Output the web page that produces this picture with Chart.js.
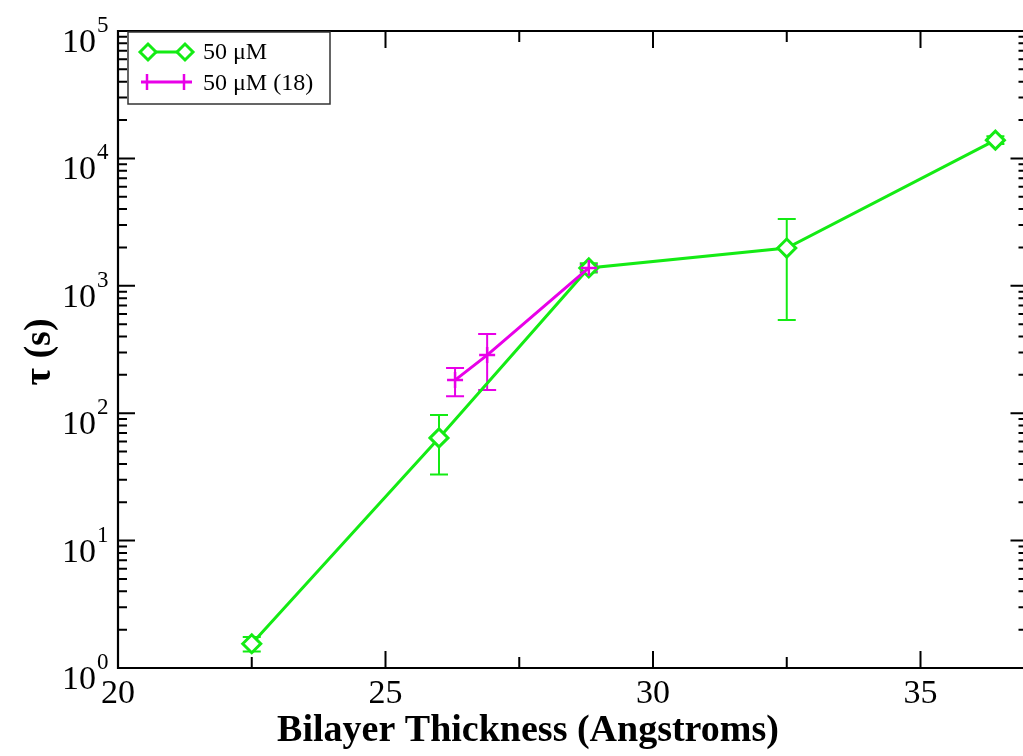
<!DOCTYPE html>
<html>
<head>
<meta charset="utf-8">
<script src="https://cdn.jsdelivr.net/npm/chart.js@4/dist/chart.umd.min.js"></script>
<style>
html,body{margin:0;padding:0;background:#fff;}
canvas{display:block;}
</style>
</head>
<body>
<canvas id="c" width="1023" height="756"></canvas>
<script>
// ---- data ----
const thickness = [22.5, 26.0, 28.8, 32.5, 36.4];
const tau50 = [1.55, 64, 1380, 1980, 13900];
const tau50Lo = [1.35, 33, 1270, 540, 13000];
const tau50Hi = [1.75, 97, 1500, 3350, 14900];
const thickness18 = [26.3, 26.9, 28.8];
const tau18 = [182, 286, 1380];
const tau18Lo = [136, 152, 1300];
const tau18Hi = [226, 418, 1460];
const xMajorTicks = [20, 25, 30, 35];
const xMinorTicks = [22.5, 27.5, 32.5];
const yDecades = [0, 1, 2, 3, 4, 5];
const seriesLabels = ['50 \u03bcM', '50 \u03bcM (18)'];
const xTitle = 'Bilayer Thickness (Angstroms)';
const yTitle = '\u03c4 (s)';

const GREEN = 'rgb(20,235,20)';
const MAGENTA = 'rgb(232,0,232)';
const SERIF = '"Liberation Serif", "Times New Roman", serif';

const errSets = [
  {x: thickness, lo: tau50Lo, hi: tau50Hi, color: GREEN},
  {x: thickness18, lo: tau18Lo, hi: tau18Hi, color: MAGENTA}
];

const decor = {
  id: 'decor',
  beforeDatasetsDraw(chart) {
    const ctx = chart.ctx, xs = chart.scales.x, ys = chart.scales.y;
    ctx.save();
    errSets.forEach(s => {
      ctx.strokeStyle = s.color;
      ctx.lineWidth = 2;
      s.x.forEach((xv, i) => {
        const px = xs.getPixelForValue(xv);
        const pl = ys.getPixelForValue(s.lo[i]);
        const ph = ys.getPixelForValue(s.hi[i]);
        ctx.beginPath();
        ctx.moveTo(px, pl); ctx.lineTo(px, ph);
        ctx.moveTo(px - 9, pl); ctx.lineTo(px + 9, pl);
        ctx.moveTo(px - 9, ph); ctx.lineTo(px + 9, ph);
        ctx.stroke();
      });
    });
    ctx.restore();
  },
  afterDraw(chart) {
    const ctx = chart.ctx, xs = chart.scales.x, ys = chart.scales.y;
    const L = xs.getPixelForValue(20), R = xs.getPixelForValue(37);
    const T = ys.getPixelForValue(1e5), B = ys.getPixelForValue(1);
    ctx.save();
    ctx.strokeStyle = '#000';
    ctx.lineWidth = 2.2;
    ctx.beginPath();
    ctx.moveTo(R, T); ctx.lineTo(L, T); ctx.lineTo(L, B); ctx.lineTo(R, B); ctx.lineTo(R, T);
    ctx.stroke();
    ctx.lineWidth = 2;
    ctx.beginPath();
    xMajorTicks.forEach(v => {
      const p = xs.getPixelForValue(v);
      ctx.moveTo(p, B); ctx.lineTo(p, B - 17);
      ctx.moveTo(p, T); ctx.lineTo(p, T + 17);
    });
    xMinorTicks.forEach(v => {
      const p = xs.getPixelForValue(v);
      ctx.moveTo(p, B); ctx.lineTo(p, B - 11);
      ctx.moveTo(p, T); ctx.lineTo(p, T + 11);
    });
    yDecades.forEach(d => {
      const p = ys.getPixelForValue(Math.pow(10, d));
      ctx.moveTo(L, p); ctx.lineTo(L + 17, p);
      ctx.moveTo(R, p); ctx.lineTo(R - 17, p);
      if (d < 5) {
        for (let m = 2; m <= 9; m++) {
          const q = ys.getPixelForValue(m * Math.pow(10, d));
          ctx.moveTo(L, q); ctx.lineTo(L + 9, q);
          ctx.moveTo(R, q); ctx.lineTo(R - 9, q);
        }
      }
    });
    ctx.stroke();
    ctx.fillStyle = '#000';
    ctx.font = '34px ' + SERIF;
    ctx.textAlign = 'center';
    ctx.textBaseline = 'alphabetic';
    xMajorTicks.forEach(v => {
      ctx.fillText(String(v), xs.getPixelForValue(v), B + 35);
    });
    yDecades.forEach(d => {
      const p = ys.getPixelForValue(Math.pow(10, d));
      ctx.font = '34px ' + SERIF;
      ctx.textAlign = 'right';
      ctx.fillText('10', 96, p + 21);
      ctx.font = '23px ' + SERIF;
      ctx.textAlign = 'left';
      ctx.fillText(String(d), 97, p + 1);
    });
    ctx.font = 'bold 38px ' + SERIF;
    ctx.textAlign = 'center';
    ctx.fillText(xTitle, 528, 741);
    ctx.save();
    ctx.translate(40, 352);
    ctx.rotate(-Math.PI / 2);
    ctx.textBaseline = 'middle';
    ctx.fillText(yTitle, 0, 0);
    ctx.restore();
    // legend
    ctx.fillStyle = '#fff';
    ctx.fillRect(128, 32, 202, 72);
    ctx.strokeStyle = '#333';
    ctx.lineWidth = 1.5;
    ctx.strokeRect(128, 32, 202, 72);
    ctx.lineWidth = 3;
    ctx.strokeStyle = GREEN;
    ctx.beginPath(); ctx.moveTo(141, 52); ctx.lineTo(192, 52); ctx.stroke();
    [148, 185].forEach(cx => {
      ctx.beginPath();
      ctx.moveTo(cx - 8, 52); ctx.lineTo(cx, 44); ctx.lineTo(cx + 8, 52); ctx.lineTo(cx, 60); ctx.closePath();
      ctx.fillStyle = '#fff'; ctx.fill(); ctx.stroke();
    });
    ctx.strokeStyle = MAGENTA;
    ctx.beginPath(); ctx.moveTo(141, 82); ctx.lineTo(192, 82); ctx.stroke();
    ctx.lineWidth = 2.5;
    [147, 184].forEach(cx => {
      ctx.beginPath();
      ctx.moveTo(cx, 74); ctx.lineTo(cx, 90);
      ctx.stroke();
    });
    ctx.fillStyle = '#000';
    ctx.font = '24px ' + SERIF;
    ctx.textAlign = 'left';
    ctx.textBaseline = 'alphabetic';
    ctx.fillText(seriesLabels[0], 203, 59);
    ctx.fillText(seriesLabels[1], 203, 90);
    ctx.restore();
  }
};

new Chart(document.getElementById('c'), {
  type: 'line',
  data: {
    datasets: [
      {
        label: seriesLabels[1],
        data: thickness18.map((x, i) => ({x, y: tau18[i]})),
        borderColor: MAGENTA,
        backgroundColor: MAGENTA,
        borderWidth: 3,
        pointStyle: 'cross',
        pointRadius: 8,
        pointBorderWidth: 2.5,
        tension: 0,
        clip: false,
        order: 0
      },
      {
        label: seriesLabels[0],
        data: thickness.map((x, i) => ({x, y: tau50[i]})),
        borderColor: GREEN,
        backgroundColor: '#fff',
        borderWidth: 3,
        pointStyle: 'rectRot',
        pointRadius: 9,
        pointBorderWidth: 3,
        tension: 0,
        clip: false,
        order: 1
      }
    ]
  },
  options: {
    responsive: false,
    animation: false,
    events: [],
    layout: {autoPadding: false, padding: {left: 118, right: 0, top: 31, bottom: 88}},
    plugins: {legend: {display: false}, tooltip: {enabled: false}},
    scales: {
      x: {type: 'linear', display: false, bounds: 'data', min: 20, max: 20 + 905 / 53.5},
      y: {type: 'logarithmic', display: false, min: 1, max: 1e5}
    }
  },
  plugins: [decor]
});
</script>
</body>
</html>
